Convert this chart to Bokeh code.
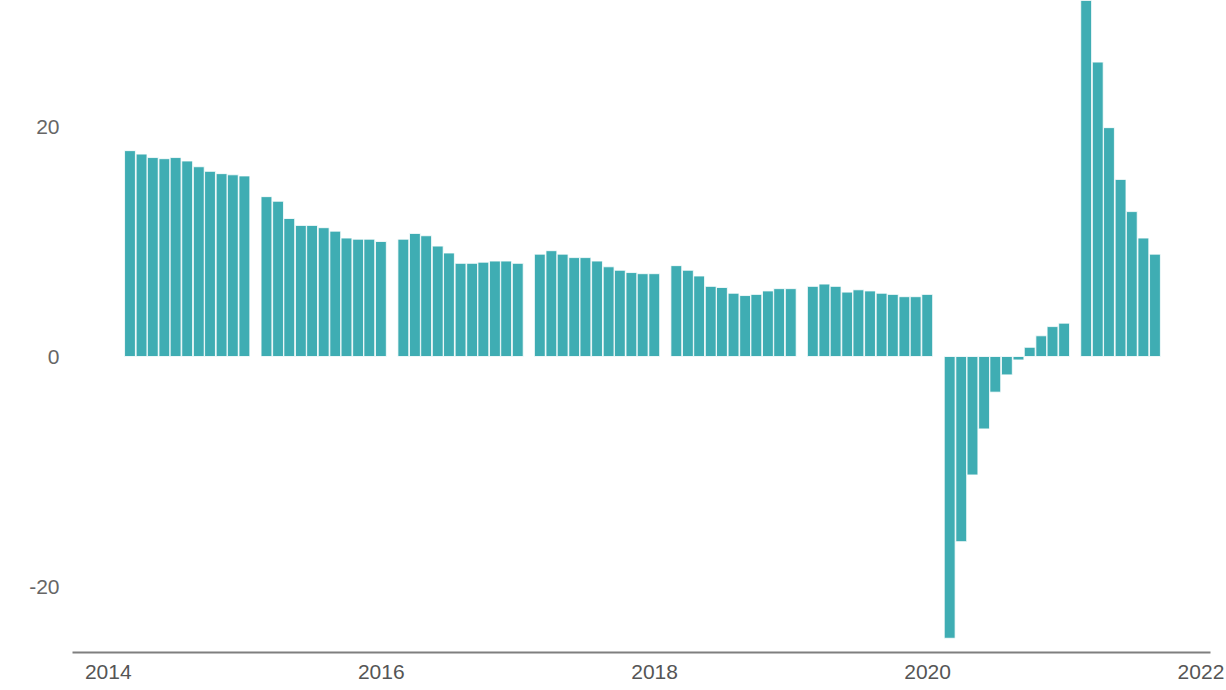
import pandas as pd
from bokeh.plotting import figure
from bokeh.models import Range1d, FixedTicker, ColumnDataSource, DatetimeTickFormatter
from bokeh.embed import file_html
from bokeh.resources import INLINE

# ---- data (cumulative YoY growth, %, Jan-Feb reported together) ----
months = ["Feb", "Mar", "Apr", "May", "Jun", "Jul", "Aug", "Sep", "Oct", "Nov", "Dec"]
years = [2014, 2015, 2016, 2017, 2018, 2019, 2020, 2021]
growth_2014 = [17.9, 17.6, 17.3, 17.2, 17.3, 17.0, 16.5, 16.1, 15.9, 15.8, 15.7]
growth_2015 = [13.9, 13.5, 12.0, 11.4, 11.4, 11.2, 10.9, 10.3, 10.2, 10.2, 10.0]
growth_2016 = [10.2, 10.7, 10.5, 9.6, 9.0, 8.1, 8.1, 8.2, 8.3, 8.3, 8.1]
growth_2017 = [8.9, 9.2, 8.9, 8.6, 8.6, 8.3, 7.8, 7.5, 7.3, 7.2, 7.2]
growth_2018 = [7.9, 7.5, 7.0, 6.1, 6.0, 5.5, 5.3, 5.4, 5.7, 5.9, 5.9]
growth_2019 = [6.1, 6.3, 6.1, 5.6, 5.8, 5.7, 5.5, 5.4, 5.2, 5.2, 5.4]
growth_2020 = [-24.5, -16.1, -10.3, -6.3, -3.1, -1.6, -0.3, 0.8, 1.8, 2.6, 2.9]
growth_2021 = [35.0, 25.6, 19.9, 15.4, 12.6, 10.3, 8.9]
series = [growth_2014, growth_2015, growth_2016, growth_2017,
          growth_2018, growth_2019, growth_2020, growth_2021]
y_ticks = [-20, 0, 20]
y_tick_labels = ["-20", "0", "20"]
x_tick_years = [2014, 2016, 2018, 2020, 2022]

# ---- build table ----
dates, vals = [], []
for yr, vs in zip(years, series):
    for m, v in zip(months, vs):
        dates.append(pd.Timestamp(f"{m} 1 {yr}") + pd.offsets.MonthEnd(0))
        vals.append(v)
src = ColumnDataSource(dict(x=dates, top=vals))

# ---- scale geometry ----
px_per_unit = 11.5
frame_h = 652
y_top = 356 / px_per_unit
y_bot = y_top - frame_h / px_per_unit

x_start = pd.Timestamp("2013-09-27 07:00")
x_end = pd.Timestamp("2022-01-26 12:00")

p = figure(
    x_axis_type="datetime",
    frame_width=1138, frame_height=frame_h,
    min_border_left=72, min_border_right=16, min_border_top=0, min_border_bottom=0,
    x_range=Range1d(x_start, x_end), y_range=Range1d(y_bot, y_top),
    output_backend="svg", toolbar_location=None,
    background_fill_color="white", border_fill_color="white",
)
p.outline_line_color = None
p.grid.visible = False

bar_w = 29 * 24 * 3600 * 1000
p.vbar(x="x", top="top", bottom=0, width=bar_w, source=src,
       fill_color="#3fadb3", line_color="#ffffff", line_width=1, line_alpha=0.8)

# y axis
p.yaxis.ticker = FixedTicker(ticks=y_ticks)
p.yaxis.major_label_overrides = dict(zip(y_ticks, y_tick_labels))
p.yaxis.axis_line_color = None
p.yaxis.major_tick_line_color = None
p.yaxis.major_tick_out = 0
p.yaxis.major_tick_in = 0
p.yaxis.minor_tick_line_color = None
p.yaxis.major_label_standoff = 13
p.yaxis.major_label_text_font = "Liberation Sans"
p.yaxis.major_label_text_font_size = "21px"
p.yaxis.major_label_text_color = "#666666"

# x axis
tick_ms = [pd.Timestamp(f"{y}-01-01").value / 1e6 for y in x_tick_years]
p.xaxis.ticker = FixedTicker(ticks=tick_ms)
p.xaxis.formatter = DatetimeTickFormatter(years="%Y", months="%Y", days="%Y")
p.xaxis.axis_line_color = "#7f7f7f"
p.xaxis.axis_line_width = 2
p.xaxis.major_tick_line_color = None
p.xaxis.major_tick_out = 0
p.xaxis.major_tick_in = 0
p.xaxis.minor_tick_line_color = None
p.xaxis.major_label_standoff = 12
p.xaxis.major_label_text_font = "Liberation Sans"
p.xaxis.major_label_text_font_size = "21px"
p.xaxis.major_label_text_color = "#555555"

open("out.html", "w").write(file_html(p, INLINE))
